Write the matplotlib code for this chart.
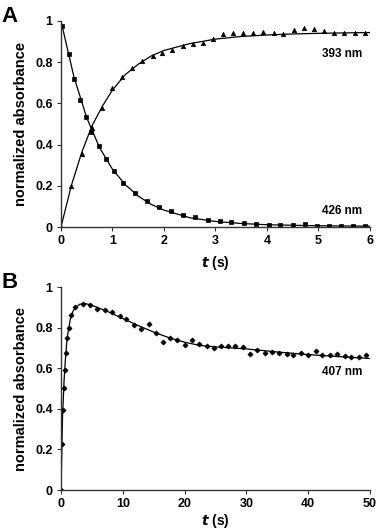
import numpy as np
import matplotlib
matplotlib.use('Agg')
import matplotlib.pyplot as plt

plt.rcParams['font.family'] = ['Liberation Sans', 'DejaVu Sans']
plt.rcParams['font.weight'] = 'bold'

# Panel A, 426 nm (squares)
t_426 = [0.02, 0.15, 0.26, 0.37, 0.49, 0.59, 0.73, 0.87, 1.03, 1.2, 1.44, 1.67, 1.9, 2.14,
         2.37, 2.61, 2.85, 3.08, 3.31, 3.56, 3.79, 4.03, 4.26, 4.5, 4.73, 4.97, 5.2, 5.43,
         5.67, 5.91]
a_426 = [0.976, 0.84, 0.72, 0.618, 0.533, 0.46, 0.393, 0.332, 0.272, 0.216, 0.163, 0.125,
         0.096, 0.076, 0.059, 0.047, 0.034, 0.031, 0.024, 0.02, 0.016, 0.011, 0.011, 0.011,
         0.013, 0.006, 0.005, 0.005, 0.006, 0.006]
fit_t_426 = [0, 0.25, 0.5, 0.75, 1.0, 1.25, 1.5, 1.75, 2.0, 2.5, 3.0, 3.5, 4.0, 5.0, 6.0]
fit_a_426 = [1.0, 0.73, 0.53, 0.385, 0.28, 0.205, 0.15, 0.11, 0.082, 0.045, 0.027, 0.017,
             0.011, 0.006, 0.004]

# Panel A, 393 nm (triangles)
t_393 = [0, 0.19, 0.4, 0.6, 0.79, 0.99, 1.18, 1.38, 1.58, 1.78, 1.97, 2.16, 2.36, 2.56,
         2.75, 2.95, 3.14, 3.34, 3.53, 3.73, 3.93, 4.13, 4.32, 4.52, 4.72, 4.91, 5.1, 5.3,
         5.5, 5.7, 5.9]
a_393 = [0, 0.2, 0.354, 0.48, 0.58, 0.675, 0.727, 0.77, 0.805, 0.83, 0.845, 0.858, 0.878,
         0.889, 0.894, 0.914, 0.937, 0.94, 0.941, 0.94, 0.946, 0.94, 0.937, 0.954, 0.966,
         0.963, 0.953, 0.941, 0.941, 0.941, 0.943]
fit_t_393 = [0, 0.2, 0.4, 0.6, 0.8, 1.0, 1.25, 1.5, 1.75, 2.0, 2.5, 3.0, 3.5, 4.0, 4.5,
             5.0, 5.5, 6.0]
fit_a_393 = [0, 0.2, 0.36, 0.49, 0.585, 0.665, 0.74, 0.79, 0.83, 0.857, 0.89, 0.912, 0.925,
             0.932, 0.937, 0.94, 0.942, 0.944]

# Panel B, 407 nm (diamonds)
t_407 = [0, 0.16, 0.27, 0.48, 0.7, 0.86, 1.02, 1.29, 1.67, 2.3, 3.5, 4.67, 5.9, 7.1, 8.3,
         9.5, 10.6, 11.8, 12.9, 14.2, 15.3, 16.5, 17.7, 18.8, 20.0, 21.2, 22.3, 23.6, 24.7,
         25.9, 27.1, 28.2, 29.4, 30.6, 31.7, 33.0, 34.2, 35.3, 36.5, 37.6, 38.9, 40.0,
         41.2, 42.3, 43.5, 44.7, 45.9, 47.0, 48.2, 49.4]
a_407 = [0, 0.225, 0.392, 0.503, 0.59, 0.675, 0.748, 0.8, 0.863, 0.902, 0.918, 0.913,
         0.893, 0.885, 0.875, 0.857, 0.84, 0.815, 0.795, 0.818, 0.775, 0.73, 0.75, 0.738,
         0.713, 0.738, 0.718, 0.711, 0.698, 0.71, 0.708, 0.71, 0.703, 0.67, 0.69, 0.677,
         0.679, 0.675, 0.672, 0.664, 0.674, 0.666, 0.687, 0.664, 0.666, 0.67, 0.659, 0.654,
         0.656, 0.664]
fit_t_407 = [0, 0.25, 0.5, 0.75, 1.0, 1.5, 2.0, 3.0, 4.0, 5.0, 7.5, 10, 12.5, 15, 17.5, 20,
             22.5, 25, 27.5, 30, 35, 40, 45, 50]
fit_a_407 = [0, 0.36, 0.54, 0.66, 0.75, 0.84, 0.885, 0.915, 0.918, 0.91, 0.88, 0.845, 0.81,
             0.778, 0.75, 0.728, 0.712, 0.705, 0.7, 0.695, 0.68, 0.667, 0.657, 0.648]

fig = plt.figure(figsize=(3.86, 5.31), dpi=100)
axA = fig.add_axes([0.158, 0.5725, 0.8005, 0.388])
axB = fig.add_axes([0.158, 0.0772, 0.8005, 0.3823])


def style(ax, xmax, xstep, xpad):
    ax.set_xlim(0, xmax)
    ax.set_ylim(0, 1)
    ax.set_xticks(np.arange(0, xmax + 0.1, xstep))
    ax.set_yticks([0, 0.2, 0.4, 0.6, 0.8, 1])
    ax.set_yticklabels(['0', '0.2', '0.4', '0.6', '0.8', '1'])
    for s in ['top', 'right']:
        ax.spines[s].set_visible(False)
    for s in ['left', 'bottom']:
        ax.spines[s].set_color('#333333')
        ax.spines[s].set_linewidth(1.0)
    ax.tick_params(direction='out', length=3, width=0.8, color='#333333',
                   labelsize=9, pad=3)
    for lab in ax.get_xticklabels() + ax.get_yticklabels():
        lab.set_fontweight('bold')
    ax.set_ylabel('normalized absorbance', fontsize=10.5, fontweight='bold', labelpad=5)
    ax.set_xlabel('$\\mathbf{\\it{t}}$ (s)', fontsize=10, fontweight='bold', labelpad=xpad)


# panel A
axA.plot(fit_t_426, fit_a_426, color='black', lw=0.9)
axA.plot(t_426, a_426, 's', color='black', ms=3.3, mew=0.5, ls='none')
axA.plot(fit_t_393, fit_a_393, color='black', lw=0.9)
axA.plot(t_393, a_393, '^', color='black', ms=3.2, mew=0.5, ls='none')
style(axA, 6, 1, 5)
axA.text(5.85, 0.84, '393 nm', ha='right', va='center', fontsize=8.5, fontweight='bold')
axA.text(5.85, 0.08, '426 nm', ha='right', va='center', fontsize=8.5, fontweight='bold')

# panel B
axB.plot(fit_t_407, fit_a_407, color='black', lw=0.9)
axB.plot(t_407, a_407, 'D', color='black', ms=2.6, mew=0.5, ls='none')
style(axB, 50, 10, 1.5)
axB.text(48.8, 0.58, '407 nm', ha='right', va='center', fontsize=8.5, fontweight='bold')

fig.text(0.003, 0.968, 'A', fontsize=16, fontweight='bold', va='center')
fig.text(0.003, 0.468, 'B', fontsize=16, fontweight='bold', va='center')

fig.savefig('out.png', dpi=100)
